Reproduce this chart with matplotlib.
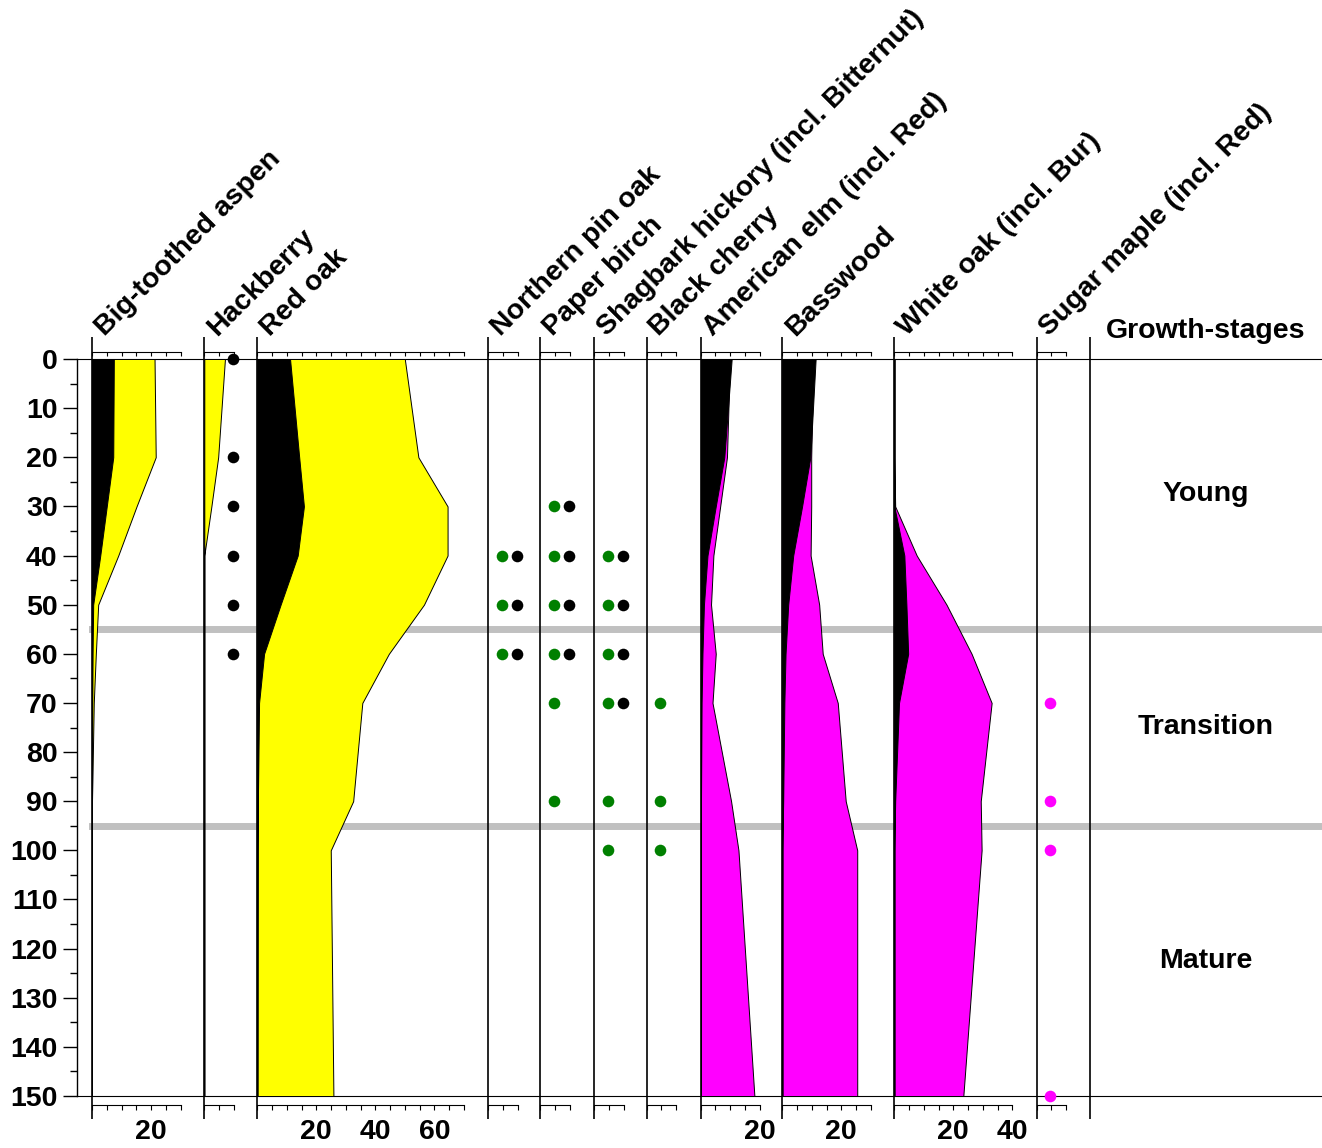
import numpy as np
import matplotlib
matplotlib.use('Agg')
import matplotlib.pyplot as plt

plt.rcParams['font.family'] = ['Liberation Sans', 'DejaVu Sans']
plt.rcParams['font.weight'] = 'bold'

# sample depths (shared by every curve)
depths = [0, 20, 30, 40, 50, 60, 70, 90, 100, 150]

species = ['Big-toothed aspen', 'Hackberry', 'Red oak', 'Northern pin oak',
           'Paper birch', 'Shagbark hickory (incl. Bitternut)', 'Black cherry',
           'American elm (incl. Red)', 'Basswood', 'White oak (incl. Bur)',
           'Sugar maple (incl. Red)']
scale_max = [30, 10, 70, 10, 10, 10, 10, 20, 30, 40, 10]
group_color = ['#ffff00', '#ffff00', '#ffff00', '#008000', '#008000', '#008000',
               '#008000', '#ff00ff', '#ff00ff', '#ff00ff', '#ff00ff']

# curves: black silhouette and coloured silhouette
aspen_blk = [7.4, 7.2, 5.0, 2.8, 0.4, 0.2, 0.1, 0, 0, 0]
aspen_col = [21.2, 21.6, 15.1, 8.9, 2.1, 1.3, 0.6, 0, 0, 0]
hackberry_col = [7.0, 4.7, 2.4, 0, 0, 0, 0, 0, 0, 0]
redoak_blk = [11.1, 14.2, 15.8, 13.7, 7.9, 2.3, 0.6, 0.2, 0.1, 0]
redoak_col = [50.0, 54.6, 64.5, 64.5, 56.5, 44.6, 35.6, 32.5, 24.9, 25.8]
elm_blk = [10.5, 8.0, 5.1, 2.3, 1.1, 0.6, 0.3, 0.1, 0, 0]
elm_col = [9.9, 8.9, 6.6, 4.3, 3.5, 5.1, 4.0, 10.3, 12.8, 18.2]
basswood_blk = [11.3, 9.5, 6.7, 3.7, 2.0, 1.1, 0.7, 0.3, 0, 0]
basswood_col = [10.5, 9.8, 9.8, 9.6, 12.5, 13.7, 18.8, 21.5, 25.4, 25.4]
whiteoak_blk = [0, 0, 0, 3.4, 4.1, 4.7, 1.6, 0.3, 0, 0]
whiteoak_col = [0, 0, 0.3, 7.6, 17.7, 26.2, 33.0, 29.3, 29.6, 23.4]

blk_curves = [aspen_blk, None, redoak_blk, None, None, None, None,
              elm_blk, basswood_blk, whiteoak_blk, None]
col_curves = [aspen_col, hackberry_col, redoak_col, None, None, None, None,
              elm_col, basswood_col, whiteoak_col, None]

# presence dots (depths)
hackberry_dots_blk = [0, 20, 30, 40, 50, 60]
pinoak_dots_col = [40, 50, 60]
pinoak_dots_blk = [40, 50, 60]
birch_dots_col = [30, 40, 50, 60, 70, 90]
birch_dots_blk = [30, 40, 50, 60]
hickory_dots_col = [40, 50, 60, 70, 90, 100]
hickory_dots_blk = [40, 50, 60, 70]
cherry_dots_col = [70, 90, 100]
maple_dots_col = [70, 90, 100, 150]

dots_col = [[], [], [], pinoak_dots_col, birch_dots_col, hickory_dots_col,
            cherry_dots_col, [], [], [], maple_dots_col]
dots_blk = [[], hackberry_dots_blk, [], pinoak_dots_blk, birch_dots_blk,
            hickory_dots_blk, [], [], [], [], []]
dot_x_col, dot_x_blk = 4.6, 9.6

stages = ['Young', 'Transition', 'Mature']
stage_edges = [0, 55, 95, 150]

# layout (pixels)
W, H = 1322, 1148
Y0, Y150 = 359, 1096
PX_UNIT = 2.95
PX_DEPTH = (Y150 - Y0) / 150.0
lefts = [92, 204.3, 257.3, 488.3, 540.3, 594.3, 646.7, 700.7, 782.3, 894.3, 1036.5]
growth_left = 1090
FS = 20.5


def dpx(px):
    return px / PX_DEPTH


fig = plt.figure(figsize=(W / 100, H / 100), dpi=100)

# background axis: depth scale, frame lines, stage boundaries
bg = fig.add_axes([77 / W, (H - Y150) / H, (W - 77) / W, (Y150 - Y0) / H])
bg.set_xlim(0, 1)
bg.set_ylim(150, 0)
bg.spines['right'].set_visible(False)
for s in ['top', 'bottom']:
    bg.spines[s].set_linewidth(0.8)
bg.spines['left'].set_linewidth(1.0)
bg.set_xticks([])
bg.set_yticks(np.arange(0, 151, 10))
bg.set_yticks(np.arange(5, 150, 10), minor=True)
bg.tick_params(axis='y', which='major', length=10, width=1, pad=4, labelsize=FS)
bg.tick_params(axis='y', which='minor', length=5, width=1)
for lab in bg.get_yticklabels():
    lab.set_fontweight('bold')
for b in stage_edges[1:-1]:
    bg.axhline(b, xmin=(92 - 77) / (W - 77), xmax=1, color='#c0c0c0', lw=5, zorder=0)

for i, name in enumerate(species):
    smax = scale_max[i]
    ax = fig.add_axes([lefts[i] / W, (H - Y150) / H, smax * PX_UNIT / W, (Y150 - Y0) / H])
    ax.set_xlim(0, smax)
    ax.set_ylim(150, 0)
    ax.axis('off')

    if col_curves[i] is not None:
        ax.fill_betweenx(depths, 0, col_curves[i], facecolor=group_color[i],
                         edgecolor='black', lw=0.7, zorder=2)
    if blk_curves[i] is not None:
        ax.fill_betweenx(depths, 0, blk_curves[i], facecolor='black',
                         edgecolor='black', lw=0.7, zorder=3)
    if dots_col[i]:
        ax.scatter([dot_x_col] * len(dots_col[i]), dots_col[i], s=70,
                   color=group_color[i], clip_on=False, zorder=5, linewidths=0)
    if dots_blk[i]:
        ax.scatter([dot_x_blk] * len(dots_blk[i]), dots_blk[i], s=70,
                   color='black', clip_on=False, zorder=5, linewidths=0)

    # panel line and scales
    ax.vlines(0, -dpx(22), 150 + dpx(23), color='black', lw=1.2, clip_on=False, zorder=4)
    ticks = np.arange(0, smax + 1, 5)
    top_y = -dpx(7.3)
    bot_y = 150 + dpx(9)
    ax.plot([0, smax], [top_y, top_y], color='black', lw=0.8, clip_on=False)
    ax.vlines(ticks, top_y, top_y + dpx(4), color='black', lw=0.8, clip_on=False)
    ax.plot([0, smax], [bot_y, bot_y], color='black', lw=0.8, clip_on=False)
    ax.vlines(ticks, bot_y, bot_y + dpx(5), color='black', lw=0.8, clip_on=False)
    for v in np.arange(20, smax + 1, 20):
        ax.text(v, 150 + dpx(36), str(v), ha='center', va='center', fontsize=FS,
                fontweight='bold', clip_on=False)

    ax.annotate(name, xy=(0, 0), xycoords='data', xytext=(9, 16),
                textcoords='offset points', rotation=45, rotation_mode='anchor',
                ha='left', va='baseline', fontsize=FS, fontweight='bold',
                annotation_clip=False)

# growth-stages column
gx = fig.add_axes([growth_left / W, (H - Y150) / H, (W - growth_left) / W, (Y150 - Y0) / H])
gx.set_xlim(0, 1)
gx.set_ylim(150, 0)
gx.axis('off')
gx.vlines(0, -dpx(22), 150 + dpx(23), color='black', lw=1.2, clip_on=False)
gx.text(0.5, -dpx(28), 'Growth-stages', ha='center', va='center', fontsize=FS,
        fontweight='bold', clip_on=False)
for k, st in enumerate(stages):
    gx.text(0.5, (stage_edges[k] + stage_edges[k + 1]) / 2, st, ha='center',
            va='center', fontsize=FS, fontweight='bold')

fig.savefig('out.png', dpi=100)
